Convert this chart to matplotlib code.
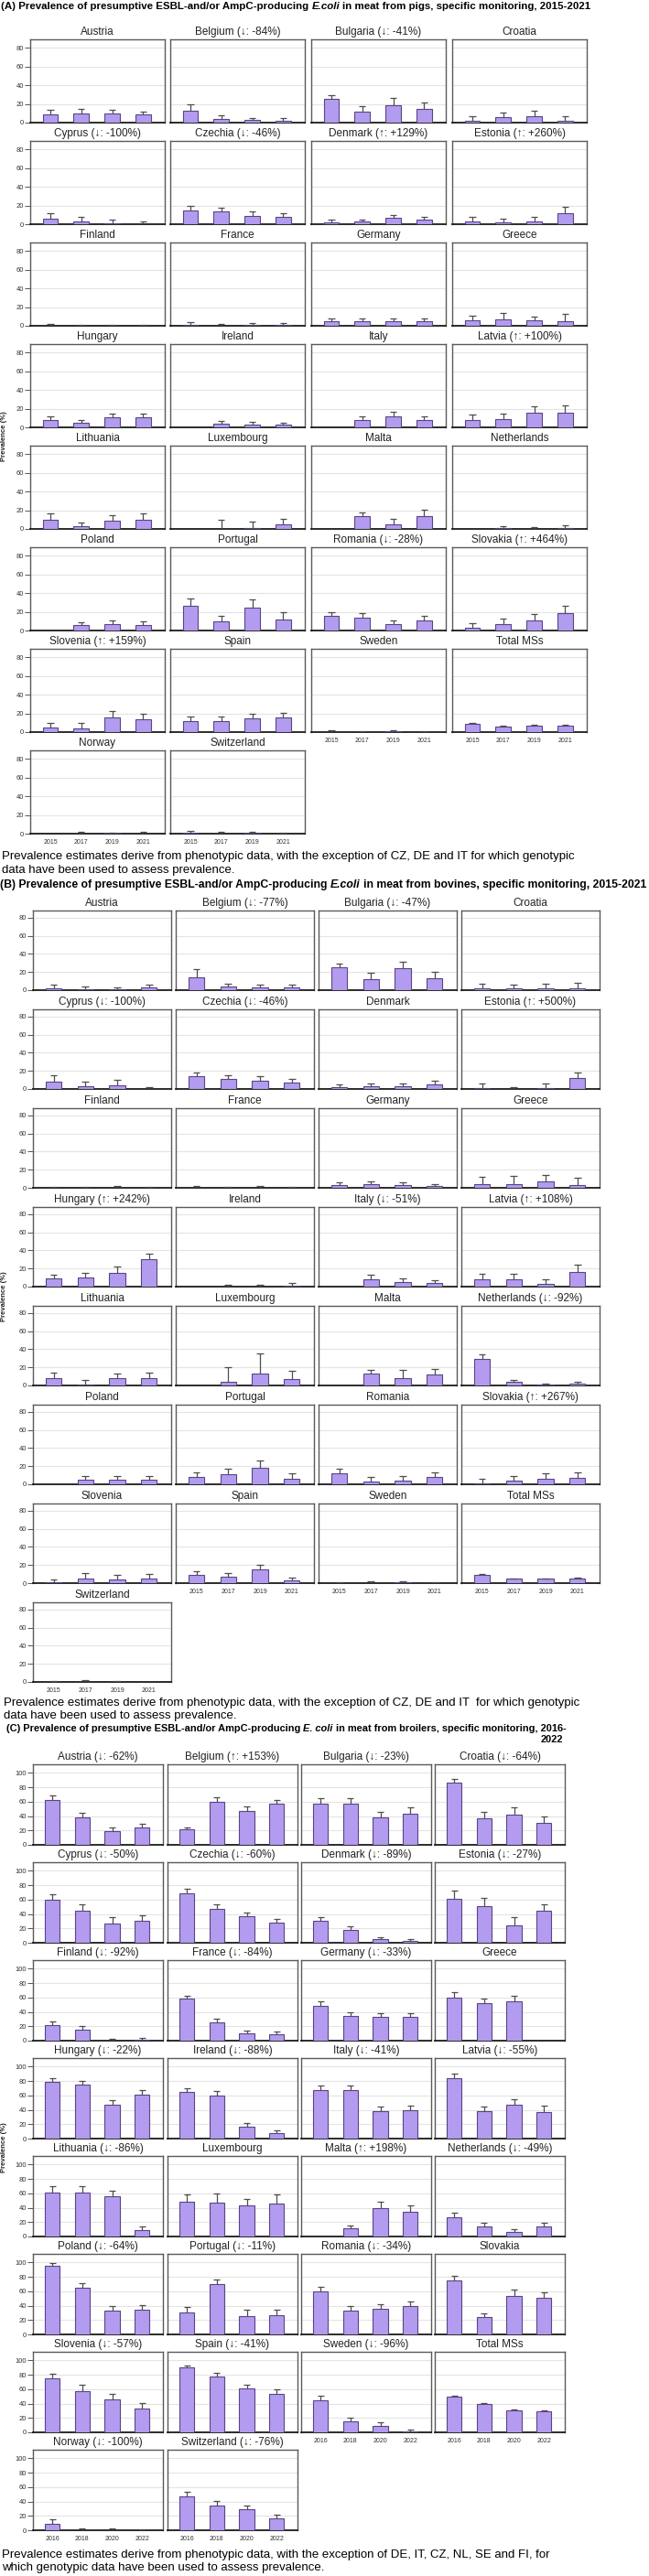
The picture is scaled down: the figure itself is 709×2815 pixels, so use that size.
import numpy as np
import matplotlib
matplotlib.use("Agg")
import matplotlib.pyplot as plt
from matplotlib import font_manager

nan = np.nan

# ---------------- DATA ----------------
a_years = ["2015", "2017", "2019", "2021"]
a_titles = ["Austria", "Belgium (↓: -84%)", "Bulgaria (↓: -41%)", "Croatia",
            "Cyprus (↓: -100%)", "Czechia (↓: -46%)", "Denmark (↑: +129%)", "Estonia (↑: +260%)",
            "Finland", "France", "Germany", "Greece",
            "Hungary", "Ireland", "Italy", "Latvia (↑: +100%)",
            "Lithuania", "Luxembourg", "Malta", "Netherlands",
            "Poland", "Portugal", "Romania (↓: -28%)", "Slovakia (↑: +464%)",
            "Slovenia (↑: +159%)", "Spain", "Sweden", "Total MSs",
            "Norway", "Switzerland"]
a_vals = [[9, 10, 9.5, 8.5], [12.5, 4, 2.5, 1.5], [25, 12, 19, 14.5], [2, 5.5, 7, 1.5],
          [6, 3, 1, 0], [15, 13.5, 9, 8], [2, 2.5, 6.5, 4.5], [3, 2, 3, 12],
          [0.2, 0.2, 0.2, 0.2], [1, 0.3, 1, 0.5], [5, 5, 5, 5], [5.5, 7, 6, 5],
          [8, 5, 10.5, 11], [nan, 3.5, 3, 2.5], [nan, 7.5, 12, 7.5], [8, 8.5, 15.5, 16],
          [10, 2.5, 8.5, 10], [nan, 0, 1, 4.5], [nan, 13.5, 5, 13.5], [nan, 1, 0.3, 1],
          [nan, 5.5, 7, 6], [26, 10, 24, 12], [15.5, 14, 7, 11], [3, 7, 11, 18.5],
          [5, 4, 15.5, 13.5], [12, 12, 15, 15.5], [0.2, 0.3, 0.5, 0.3], [9, 5.5, 7, 7],
          [nan, 0.2, 0.5, 0.3], [0.8, 0.3, 0.5, 0.3]]
a_upper = [[13.5, 14.5, 13.5, 12], [20, 7.5, 5, 4.5], [29, 18, 26.5, 21.5], [7, 11, 13, 6.5],
           [12, 7.5, 5, 3], [20, 18, 13.5, 12], [4.5, 5, 10, 8], [8, 6, 8, 18.5],
           [1.5, 1, 1, 1], [3.5, 1.5, 3, 2.5], [7.5, 7.5, 7.5, 7.5], [10.5, 13.5, 10, 13],
           [12, 8, 15, 15], [nan, 6.5, 6, 5], [nan, 11.5, 16.5, 11.5], [13.5, 14.5, 22.5, 23],
           [16.5, 6.5, 14.5, 16.5], [nan, 9.5, 8, 10.5], [nan, 18, 11, 20.5], [nan, 3, 1.5, 3.5],
           [nan, 9, 10.5, 9.5], [34, 15.5, 33, 19.5], [19.5, 18.5, 11, 15.5], [7.5, 13, 17.5, 26],
           [10, 9.5, 22.5, 20], [16.5, 16.5, 20, 20.5], [1.5, 1, 2, 1], [10, 6.5, 7.5, 7.5],
           [nan, 1.5, 1, 1.5], [2.5, 1.5, 2, 1]]

b_years = ["2015", "2017", "2019", "2021"]
b_titles = ["Austria", "Belgium (↓: -77%)", "Bulgaria (↓: -47%)", "Croatia",
            "Cyprus (↓: -100%)", "Czechia (↓: -46%)", "Denmark", "Estonia (↑: +500%)",
            "Finland", "France", "Germany", "Greece",
            "Hungary (↑: +242%)", "Ireland", "Italy (↓: -51%)", "Latvia (↑: +108%)",
            "Lithuania", "Luxembourg", "Malta", "Netherlands (↓: -92%)",
            "Poland", "Portugal", "Romania", "Slovakia (↑: +267%)",
            "Slovenia", "Spain", "Sweden", "Total MSs",
            "Switzerland"]
b_vals = [[2.5, 1.5, 1, 3], [14, 4.5, 3.5, 3], [25, 12.5, 24, 13], [2.5, 2, 2, 2.5],
          [8, 3.5, 4.5, 0], [14, 11, 9.5, 7], [2.5, 3, 3.5, 5], [1.5, 0, 1.5, 12],
          [0.3, 0.3, 0.5, 0.3], [0, 0.3, 0.3, 0.3], [3.5, 4, 3, 2], [4, 4.5, 7.5, 3.5],
          [9, 10, 15.5, 30.5], [nan, 0.5, 0.5, 1.5], [nan, 8.5, 5, 4], [8, 8, 3.5, 16.5],
          [8, 1.5, 8, 8.5], [nan, 4, 13.5, 7.5], [nan, 13, 8.5, 12], [29, 4, 1, 2],
          [nan, 5.5, 5.5, 5.5], [8, 11.5, 18.5, 6], [12.5, 3, 4, 8], [1.5, 4, 6.5, 7.5],
          [1, 5.5, 4.5, 5], [9, 7, 15, 3.5], [0.3, 0.5, 0.8, 0.3], [9, 5, 5, 5.5],
          [0.3, 0.5, 0.3, 0.2]]
b_upper = [[6, 4, 3, 6], [23, 7.5, 6.5, 6], [29, 19, 31, 20], [7, 6.5, 7, 8],
           [15, 8.5, 10, 2.5], [18.5, 15.5, 14, 11], [5, 6.5, 6.5, 9], [6, 2.5, 6, 18.5],
           [1, 1, 2, 1], [2, 1.5, 2, 1.5], [6.5, 7, 6, 4], [12.5, 13.5, 14, 11.5],
           [13, 15, 22, 36.5], [nan, 2.5, 2.5, 4], [nan, 13, 9, 7.5], [14, 14, 8, 24],
           [14, 6, 13.5, 14.5], [nan, 20, 35, 16.5], [nan, 17.5, 17.5, 18.5], [34, 6.5, 2.5, 4],
           [nan, 9.5, 9.5, 9.5], [13.5, 17, 26.5, 12], [17.5, 8, 9, 13.5], [6, 9, 12, 13],
           [4.5, 11, 9.5, 10], [13, 11, 20, 6.5], [1, 2.5, 2.5, 1.5], [10, 5.5, 5.5, 6.5],
           [1, 2.5, 1.5, 0.5]]

c_years = ["2016", "2018", "2020", "2022"]
c_titles = ["Austria (↓: -62%)", "Belgium (↑: +153%)", "Bulgaria (↓: -23%)", "Croatia (↓: -64%)",
            "Cyprus (↓: -50%)", "Czechia (↓: -60%)", "Denmark (↓: -89%)", "Estonia (↓: -27%)",
            "Finland (↓: -92%)", "France (↓: -84%)", "Germany (↓: -33%)", "Greece",
            "Hungary (↓: -22%)", "Ireland (↓: -88%)", "Italy (↓: -41%)", "Latvia (↓: -55%)",
            "Lithuania (↓: -86%)", "Luxembourg", "Malta (↑: +198%)", "Netherlands (↓: -49%)",
            "Poland (↓: -64%)", "Portugal (↓: -11%)", "Romania (↓: -34%)", "Slovakia",
            "Slovenia (↓: -57%)", "Spain (↓: -41%)", "Sweden (↓: -96%)", "Total MSs",
            "Norway (↓: -100%)", "Switzerland (↓: -76%)"]
c_vals = [[63, 38, 19, 24], [22, 60, 47, 57], [57, 57, 38, 43.5], [86, 37.5, 42.5, 31],
          [60, 44.5, 27, 30], [69, 47, 36.5, 28], [30, 18, 4.5, 3], [61, 50.5, 24, 44.5],
          [22, 15, 0, 1.5], [58, 25, 10, 9], [49, 35, 33, 33], [60, 52, 55, nan],
          [79, 75, 47, 61.5], [65, 60, 17, 8], [68, 68, 38.5, 40], [84, 38.5, 46.5, 37.5],
          [61.5, 61.5, 55.5, 8.5], [48, 46.5, 43.5, 45.5], [nan, 11, 40, 35], [26.5, 14, 6, 13.5],
          [96, 65, 33, 35], [30.5, 70, 25.5, 27], [60, 33, 35.5, 39.5], [75, 24, 54, 50.5],
          [75.5, 57.5, 45.5, 33], [90.5, 78, 61, 53.5], [44, 15, 9.5, 1.5], [50, 40, 30.5, 29.5],
          [9.5, 0, 0.5, 0.3], [47, 35, 29, 16.5]]
c_upper = [[69, 44, 24, 29.5], [24, 66, 54, 63], [65, 65, 46, 52], [92, 46, 52, 40],
           [68, 54, 36, 38.5], [75, 54, 42.5, 33.5], [36, 23, 7.5, 5.5], [73, 63, 35.5, 53],
           [27, 20, 2, 4], [63, 30, 14, 13], [55, 40, 38, 38], [67, 58, 62, nan],
           [84, 80, 53, 67], [70, 66, 22, 12], [74, 74, 45, 46], [90.5, 45, 55, 46],
           [69.5, 69.5, 64, 14.5], [58, 60, 52.5, 59], [nan, 15, 48.5, 43], [33.5, 19, 10.5, 19.5],
           [99, 71, 39, 40.5], [38, 77, 35, 34], [66, 39, 41.5, 45.5], [82, 29, 62.5, 59],
           [82, 66, 54, 41], [93.5, 82.5, 66.5, 59.5], [50.5, 20, 14, 4], [51, 41, 31.5, 30.5],
           [15.5, 2, 2.5, 1], [53.5, 41, 35, 21.5]]

# ---------------- LAYOUT ----------------
W, H = 709, 2815
fig = plt.figure(figsize=(W / 100, H / 100), dpi=100)
renderer = fig.canvas.get_renderer()

names = {f.name for f in font_manager.fontManager.ttflist}
NARROW = "Liberation Sans Narrow" if "Liberation Sans Narrow" in names else "Liberation Sans"
SANS = "Liberation Sans"

BAR_FACE = "#b39cf0"
BAR_EDGE = "#584583"
ERR = "#4d4d4d"


def fy(y):
    return 1 - y / H


def text_width(t):
    return t.get_window_extent(renderer).width


def fit_line(x0, y, s, target_w, family, weight="normal", fs=None):
    t = fig.text(x0 / W, fy(y), s, fontsize=10, family=family, weight=weight,
                 va="center", ha="left")
    if fs is None:
        fs = 10 * target_w / text_width(t)
    t.set_fontsize(fs)
    return fs


def rich_line(x0, y, pieces, target_w, family, weight="bold"):
    texts = []
    for s, style in pieces:
        texts.append(fig.text(0, 0, s, fontsize=10, family=family, weight=weight,
                              style=style, va="center", ha="left"))
    sp1 = fig.text(0, 0, "a a", fontsize=10, family=family, weight=weight)
    sp2 = fig.text(0, 0, "aa", fontsize=10, family=family, weight=weight)
    space = text_width(sp1) - text_width(sp2)
    sp1.remove(); sp2.remove()
    total = sum(text_width(t) for t in texts) + space * (len(texts) - 1)
    scale = target_w / total
    fs = 10 * scale
    x = x0
    for t in texts:
        t.set_fontsize(fs)
        t.set_position((x / W, fy(y)))
        x += text_width(t) + space * scale
    return fs


def draw_section(titles, vals, upper, years, xl, w, top0, h, step, ymax, yticks):
    n = len(titles)
    for k in range(n):
        r, c = divmod(k, 4)
        top = top0 + r * step
        ax = fig.add_axes([xl[c] / W, fy(top + h), w / W, h / H])
        v = np.array(vals[k], dtype=float)
        u = np.array(upper[k], dtype=float)
        x = np.arange(len(years))
        ax.bar(x, v, width=0.5, color=BAR_FACE, edgecolor=BAR_EDGE, linewidth=0.8, zorder=3)
        ok = ~np.isnan(u)
        ax.vlines(x[ok], v[ok], u[ok], color=ERR, lw=0.9, zorder=4)
        ax.hlines(u[ok], x[ok] - 0.11, x[ok] + 0.11, color=ERR, lw=0.9, zorder=4)
        ax.set_xlim(-0.65, 3.7)
        ax.set_ylim(0, ymax)
        ax.set_yticks(yticks)
        ax.set_xticks(x)
        ax.yaxis.grid(True, color="#e4e4e4", lw=0.8)
        ax.set_axisbelow(True)
        for s in ["top", "left", "right"]:
            ax.spines[s].set_color("#5a5a5a")
            ax.spines[s].set_linewidth(1.0)
        ax.spines["bottom"].set_color("#1a1a1a")
        ax.spines["bottom"].set_linewidth(1.3)
        if c == 0:
            ax.tick_params(axis="y", direction="out", length=4, width=0.7, color="#555555",
                           labelsize=5.5, pad=1, labelcolor="#333333")
            for lab in ax.get_yticklabels():
                lab.set_family(SANS)
        else:
            ax.tick_params(axis="y", left=False, labelleft=False)
        if k + 4 >= n:
            ax.set_xticklabels(years)
            ax.tick_params(axis="x", length=0, labelsize=5, pad=4, labelcolor="#333333")
            for lab in ax.get_xticklabels():
                lab.set_family(NARROW)
        else:
            ax.tick_params(axis="x", length=0, labelbottom=False)
        fig.text((xl[c] + w / 2) / W, fy(top - 8), titles[k], ha="center", va="center",
                 fontsize=8.5, family=[NARROW, "DejaVu Sans"], color="#222222")
    nrows = (n + 3) // 4
    mid = (top0 + (top0 + (nrows - 1) * step + h)) / 2
    fig.text(5 / W, fy(mid), "Prevalence (%)", rotation=90, ha="center", va="center",
             fontsize=5.5, weight="bold", family=SANS, color="#222222")


# Section A
rich_line(1, 7, [("(A) Prevalence of presumptive ESBL-and/or AmpC-producing", "normal"),
                 ("E.coli", "italic"),
                 ("in meat from pigs, specific monitoring, 2015-2021", "normal")],
          640, NARROW, "bold")
draw_section(a_titles, a_vals, a_upper, a_years, [33, 186, 340, 494], 147,
             43, 91, 111, 89, [0, 20, 40, 60, 80])
fs_note = fit_line(2, 936, "Prevalence estimates derive from phenotypic data, with the exception of CZ, DE and IT for which genotypic",
                   630, SANS)
fit_line(2, 951, "data have been used to assess prevalence.", 0, SANS, fs=fs_note)

# Section B
rich_line(0, 967, [("(B) Prevalence of presumptive ESBL-and/or AmpC-producing", "normal"),
                   ("E.coli", "italic"),
                   ("in meat from bovines, specific monitoring, 2015-2021", "normal")],
          709, NARROW, "bold")
draw_section(b_titles, b_vals, b_upper, b_years, [36, 192, 348, 504], 151,
             995, 87, 108, 88, [0, 20, 40, 60, 80])
fit_line(4, 1861, "Prevalence estimates derive from phenotypic data, with the exception of CZ, DE and IT  for which genotypic",
         0, SANS, fs=fs_note)
fit_line(4, 1875, "data have been used to assess prevalence.", 0, SANS, fs=fs_note)

# Section C
fs_c = rich_line(7, 1889, [("(C) Prevalence of presumptive ESBL-and/or AmpC-producing", "normal"),
                           ("E. coli", "italic"),
                           ("in meat from broilers, specific monitoring, 2016-", "normal")],
                 608, NARROW, "bold")
fig.text(615 / W, fy(1901), "2022", ha="right", va="center", fontsize=fs_c,
         family=NARROW, weight="bold")
draw_section(c_titles, c_vals, c_upper, c_years, [36, 183, 329, 475], 142,
             1928, 88, 107, 112, [0, 20, 40, 60, 80, 100])
fit_line(2, 2792, "Prevalence estimates derive from phenotypic data, with the exception of DE, IT, CZ, NL, SE and FI, for",
         0, SANS, fs=fs_note)
fit_line(2, 2806, "which genotypic data have been used to assess prevalence.", 0, SANS, fs=fs_note)

fig.savefig("out.png", dpi=100, facecolor="white")
